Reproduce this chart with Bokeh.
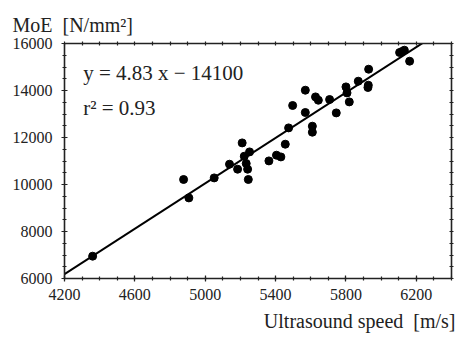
from bokeh.plotting import figure
from bokeh.models import Range1d, FixedTicker, LinearAxis, Label, Title
from bokeh.embed import file_html
from bokeh.resources import INLINE

# data
speed = [4360, 4877, 4907, 5051, 5138, 5184, 5210, 5222, 5252, 5233, 5241, 5245,
         5362, 5405, 5430, 5455, 5474, 5497, 5569, 5569, 5609, 5609, 5627, 5643,
         5707, 5745, 5800, 5806, 5819, 5870, 5929, 5927, 5925, 6105, 6132, 6119, 6162]
moe = [6950, 10213, 9430, 10281, 10864, 10651, 11770, 11204, 11387, 10894, 10651, 10213,
       11004, 11247, 11174, 11715, 12409, 13362, 14013, 13064, 12481, 12226, 13728, 13587,
       13617, 13047, 14153, 13898, 13515, 14396, 14906, 14226, 14128, 15617, 15715, 15660, 15247]
slope = 4.83
intercept = -14100
r2 = 0.93
x_major = [4200, 4600, 5000, 5400, 5800, 6200]
x_minor = list(range(4200, 6401, 100))
y_major = [6000, 8000, 10000, 12000, 14000, 16000]
y_minor = list(range(6000, 16001, 500))
x_title = "Ultrasound speed \u00a0[m/s]"
y_title = "MoE \u00a0[N/mm²]"
eq_text = "y = 4.83 x \u2212 14100"
r2_text = "r² = 0.93"

FONT = "Liberation Serif"
INK = "#222222"

p = figure(width=459, height=339, x_range=Range1d(4200, 6400), y_range=Range1d(6000, 16000),
           output_backend="svg", toolbar_location=None,
           min_border_left=64, min_border_right=8, min_border_top=43, min_border_bottom=61)
p.grid.visible = False
p.outline_line_color = None
p.background_fill_color = "white"
p.border_fill_color = "white"

xt = FixedTicker(ticks=x_major, minor_ticks=x_minor)
yt = FixedTicker(ticks=y_major, minor_ticks=y_minor)

def style(ax):
    ax.axis_line_color = INK
    ax.axis_line_width = 1.6
    ax.major_tick_line_color = INK
    ax.minor_tick_line_color = INK
    ax.major_tick_line_width = 1.2
    ax.minor_tick_line_width = 1.2
    ax.major_tick_in = 3
    ax.major_tick_out = 3
    ax.minor_tick_in = 2
    ax.minor_tick_out = 2
    ax.major_label_text_font = FONT
    ax.major_label_text_font_size = "16px"
    ax.major_label_text_color = INK

p.xaxis[0].ticker = xt
p.yaxis[0].ticker = yt
style(p.xaxis[0])
style(p.yaxis[0])
p.xaxis[0].major_label_standoff = 7
p.yaxis[0].major_label_standoff = 9

# top and right frame axes: tick marks only (no labelled major ticks)
top = LinearAxis(ticker=FixedTicker(ticks=[], minor_ticks=x_minor), major_label_standoff=0)
right = LinearAxis(ticker=FixedTicker(ticks=[], minor_ticks=y_minor), major_label_standoff=0)
style(top)
style(right)
for ax in (top, right):
    ax.minor_tick_in = 2
    ax.minor_tick_out = 2
p.add_layout(top, "above")
p.add_layout(right, "right")

# axis titles as titles (not clipped by the frame)
p.title.text = y_title
p.title.align = "left"
p.title.offset = -52
p.title.text_font = FONT
p.title.text_font_size = "20px"
p.title.text_font_style = "normal"
p.title.text_color = INK
p.title.standoff = 12

p.add_layout(Title(text=x_title, align="right", offset=-4, text_font=FONT,
                   text_font_size="20px", text_font_style="normal", text_color=INK,
                   standoff=11), "below")

# regression line
lx = [4200, 6400]
ly = [slope * v + intercept for v in lx]
p.line(lx, ly, line_color="black", line_width=2)

p.scatter(speed, moe, size=8, fill_color="black", line_color="black")

p.add_layout(Label(x=4306, y=14750, text=eq_text, text_font=FONT, text_font_size="21px",
                   text_color=INK, text_baseline="alphabetic"))
p.add_layout(Label(x=4306, y=13250, text=r2_text, text_font=FONT, text_font_size="21px",
                   text_color=INK, text_baseline="alphabetic"))

open("out.html", "w").write(file_html(p, INLINE))
